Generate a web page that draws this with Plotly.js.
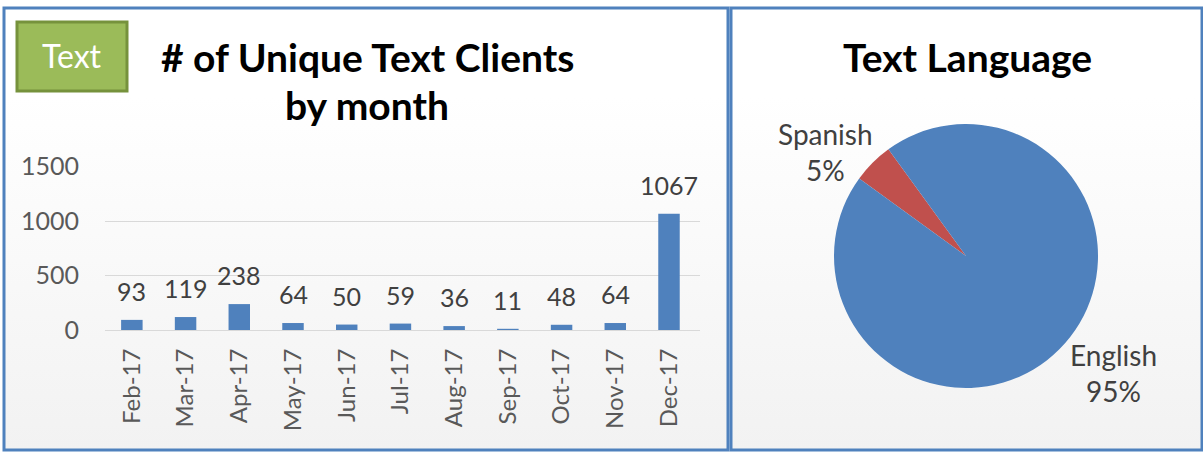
<!DOCTYPE html>
<html>
<head>
<meta charset="utf-8">
<script src="https://cdn.plot.ly/plotly-3.0.1.min.js"></script>
<style>
  html, body { margin: 0; padding: 0; background: #ffffff; }
  #wrap { position: relative; width: 1203px; height: 452px; overflow: hidden; }
  .bg { position: absolute; top: 8px; height: 442px; background: linear-gradient(to bottom, #ffffff 0%, #ffffff 20%, #f2f2f2 100%); }
  #chart { position: absolute; left: 0; top: 0; width: 1203px; height: 452px; }
</style>
</head>
<body>
<div id="wrap">
  <div class="bg" style="left:4px;width:724px;"></div>
  <div class="bg" style="left:731px;width:471px;"></div>
  <div id="chart"></div>
</div>
<script>
// ---- data ----
const months = ["Feb-17","Mar-17","Apr-17","May-17","Jun-17","Jul-17","Aug-17","Sep-17","Oct-17","Nov-17","Dec-17"];
const clients = [93, 119, 238, 64, 50, 59, 36, 11, 48, 64, 1067];
const yTicks = [0, 500, 1000, 1500];
const languages = ["Spanish", "English"];
const languageShares = [5, 95];

const W = 1203, H = 452;
const px = v => v / W;
const py = v => 1 - v / H;
const FONT = "Lato, 'Open Sans', sans-serif";

const barTrace = {
  type: "bar",
  x: months,
  y: clients,
  marker: { color: "#4f81bd" },
  width: 0.4,
  hoverinfo: "x+y",
  xaxis: "x", yaxis: "y"
};

const pieTrace = {
  type: "pie",
  labels: languages,
  values: languageShares,
  sort: false,
  direction: "clockwise",
  rotation: -54,
  marker: { colors: ["#c0504d", "#4f81bd"], line: { width: 0 } },
  textinfo: "none",
  domain: { x: [px(834), px(1098)], y: [py(388), py(124)] },
  showlegend: false
};

const labelAnns = months.map((m, i) => ({
  x: m, y: clients[i], xref: "x", yref: "y",
  text: String(clients[i]), showarrow: false,
  yanchor: "bottom", yshift: 12,
  font: { family: FONT, size: 25, color: "#404040" }
}));

// pie label placement (outside the slices)
const pieLabelPos = [[825, 152], [1113, 373]];
const totalShare = languageShares.reduce((a, b) => a + b, 0);
const pieAnns = languages.map((lab, i) => ({
  xref: "paper", yref: "paper",
  x: px(pieLabelPos[i][0]), y: py(pieLabelPos[i][1]),
  text: lab + "<br>" + Math.round(100 * languageShares[i] / totalShare) + "%",
  showarrow: false, xanchor: "center", yanchor: "middle", align: "center",
  font: { family: FONT, size: 28, color: "#404040" }
}));

const layout = {
  width: W, height: H,
  margin: { l: 0, r: 0, t: 0, b: 0 },
  paper_bgcolor: "rgba(0,0,0,0)",
  plot_bgcolor: "rgba(0,0,0,0)",
  showlegend: false,
  xaxis: {
    domain: [px(105), px(700)],
    type: "category",
    tickangle: -90,
    tickfont: { family: FONT, size: 24, color: "#595959" },
    showline: true, linecolor: "#d9d9d9", linewidth: 1,
    ticks: "", showgrid: false, zeroline: false,
    ticklabelstandoff: 8
  },
  yaxis: {
    domain: [py(330), py(166.7)],
    range: [0, 1500],
    tickvals: yTicks,
    ticktext: yTicks.map(String),
    tickfont: { family: FONT, size: 25, color: "#595959" },
    showgrid: true, gridcolor: "#d9d9d9", gridwidth: 1,
    zeroline: false, showline: false, ticks: "",
    ticklabelstandoff: 25
  },
  shapes: [
    { type: "rect", xref: "paper", yref: "paper", x0: px(4), x1: px(728), y0: py(450), y1: py(8),
      line: { color: "#4f81bd", width: 3 }, fillcolor: "rgba(0,0,0,0)", layer: "above" },
    { type: "rect", xref: "paper", yref: "paper", x0: px(731), x1: px(1202), y0: py(450), y1: py(8),
      line: { color: "#4f81bd", width: 3 }, fillcolor: "rgba(0,0,0,0)", layer: "above" },
    { type: "rect", xref: "paper", yref: "paper", x0: px(17), x1: px(127), y0: py(91), y1: py(22),
      line: { color: "#76923c", width: 3 }, fillcolor: "#9bbb59", layer: "above" }
  ],
  annotations: labelAnns.concat(pieAnns, [
    { xref: "paper", yref: "paper", x: px(72), y: py(56), text: "Text", showarrow: false,
      xanchor: "center", yanchor: "middle", font: { family: FONT, size: 32, color: "#ffffff" } },
    { xref: "paper", yref: "paper", x: px(367), y: py(57), text: "<b># of Unique Text Clients</b>", showarrow: false,
      xanchor: "center", yanchor: "middle", font: { family: FONT, size: 39, color: "#000000" } },
    { xref: "paper", yref: "paper", x: px(367), y: py(105), text: "<b>by month</b>", showarrow: false,
      xanchor: "center", yanchor: "middle", font: { family: FONT, size: 39, color: "#000000" } },
    { xref: "paper", yref: "paper", x: px(967), y: py(57), text: "<b>Text Language</b>", showarrow: false,
      xanchor: "center", yanchor: "middle", font: { family: FONT, size: 39, color: "#000000" } }
  ])
};

Plotly.newPlot("chart", [barTrace, pieTrace], layout, { displayModeBar: false, staticPlot: true });
</script>
</body>
</html>
